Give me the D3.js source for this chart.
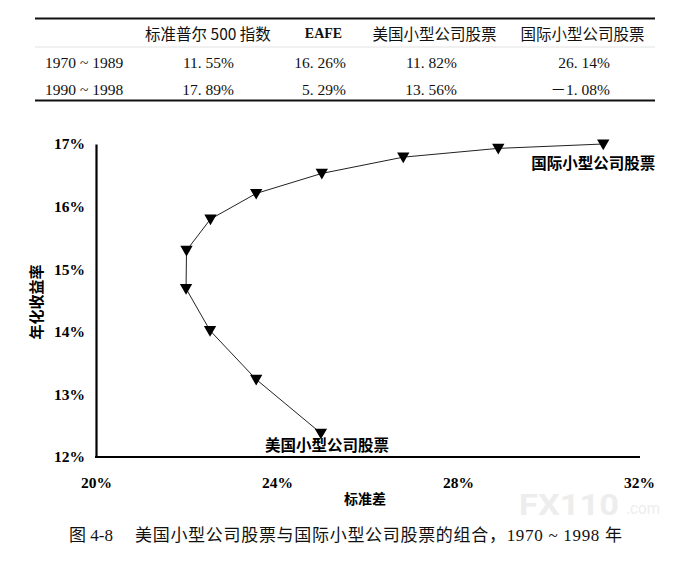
<!DOCTYPE html>
<html>
<head>
<meta charset="utf-8">
<script src="https://cdn.jsdelivr.net/npm/d3@7"></script>
<style>
  body { margin: 0; background: #fff; }
  svg { display: block; }
</style>
</head>
<body>
<svg width="698" height="567"></svg>
<script>
// table data
const tableHeaders = ['标准普尔 500 指数', 'EAFE', '美国小型公司股票', '国际小型公司股票']
const periods = ['1970 ~ 1989', '1990 ~ 1998']
const returns7089 = [11.55, 16.26, 11.82, 26.14]
const returns9098 = [17.89, 5.29, 13.56, -1.08]

// frontier data (from US small stocks to international small stocks)
const stdDev = [24.97, 23.54, 22.52, 21.99, 22.00, 22.53, 23.54, 24.99, 26.79, 28.89, 31.21]
const annReturn = [12.38, 13.24, 14.02, 14.69, 15.30, 15.80, 16.21, 16.53, 16.79, 16.93, 17.00]
const xTicks = [20, 24, 28, 32]
const yTicks = [12, 13, 14, 15, 16, 17]
const endLabels = ['美国小型公司股票', '国际小型公司股票']

const SERIF = '"Liberation Serif", "Noto Sans CJK SC", serif'
const CJK = '"Noto Sans CJK SC", sans-serif'

const $svg = d3.select('svg')

// ---- table ----
const colHeadX = [208, 323.5, 434.5, 582.5]
const colValX = [234, 346, 457, 610]
const rowY = [62, 89]
const fmt = v => (v < 0 ? '－' : '') + Math.abs(v).toFixed(2).replace('.', '. ') + '%'

const $table = $svg.append('g')
$table.append('line').attr('x1', 35).attr('x2', 655).attr('y1', 18.5).attr('y2', 18.5)
  .attr('stroke', '#111').attr('stroke-width', 2)
$table.append('line').attr('x1', 35).attr('x2', 655).attr('y1', 47).attr('y2', 47)
  .attr('stroke', '#e2e2e2').attr('stroke-width', 1)
$table.append('line').attr('x1', 35).attr('x2', 655).attr('y1', 100.5).attr('y2', 100.5)
  .attr('stroke', '#111').attr('stroke-width', 2)

$table.selectAll('.th')
  .data(tableHeaders)
  .enter()
  .append('text')
  .attr('x', (d, i) => colHeadX[i])
  .attr('y', 33)
  .attr('dominant-baseline', 'central')
  .attr('text-anchor', 'middle')
  .style('font-family', (d, i) => i === 1 ? SERIF : CJK)
  .style('font-size', (d, i) => i === 1 ? '14px' : '15.5px')
  .style('font-weight', (d, i) => i === 1 ? 'bold' : 'normal')
  .attr('fill', '#111')
  .text(d => d)

$table.selectAll('.period')
  .data(periods)
  .enter()
  .append('text')
  .attr('x', 45)
  .attr('y', (d, i) => rowY[i])
  .attr('dominant-baseline', 'central')
  .style('font-family', SERIF)
  .style('font-size', '15.5px')
  .attr('fill', '#111')
  .text(d => d)

;[returns7089, returns9098].forEach((row, r) => {
  $table.selectAll('.v' + r)
    .data(row)
    .enter()
    .append('text')
    .attr('x', (d, i) => colValX[i])
    .attr('y', rowY[r])
    .attr('dominant-baseline', 'central')
    .attr('text-anchor', 'end')
    .style('font-family', SERIF)
    .style('font-size', '15.5px')
    .attr('fill', '#111')
    .text(d => fmt(d))
})

// ---- chart ----
const scaleX = d3.scaleLinear().domain([20, 32]).range([96, 639])
const scaleY = d3.scaleLinear().domain([12, 17]).range([457, 144])

const $xAxis = $svg.append('g')
  .attr('transform', `translate(0, ${scaleY(12)})`)
  .call(d3.axisBottom(scaleX)
    .tickValues(xTicks)
    .tickSize(0)
    .tickPadding(20)
    .tickFormat(d => d + '%'))

const $yAxis = $svg.append('g')
  .attr('transform', `translate(${scaleX(20)}, 0)`)
  .call(d3.axisLeft(scaleY)
    .tickValues(yTicks)
    .tickSize(0)
    .tickPadding(11)
    .tickFormat(d => d + '%'))

;[$xAxis, $yAxis].forEach($a => {
  $a.attr('font-family', null).attr('font-size', null)
  $a.select('.domain').attr('stroke', '#000').attr('stroke-width', 2.2)
  $a.selectAll('text')
    .style('font-family', SERIF)
    .style('font-size', '15.5px')
    .style('font-weight', 'bold')
    .attr('fill', '#000')
})
$xAxis.select('.domain').attr('d', `M${scaleX(20) - 1},0H${scaleX(32) + 1}`)

const points = stdDev.map((s, i) => ({ s, r: annReturn[i] }))

$svg.append('path')
  .datum(points)
  .attr('fill', 'none')
  .attr('stroke', '#222')
  .attr('stroke-width', 1)
  .attr('d', d3.line().x(d => scaleX(d.s)).y(d => scaleY(d.r)))

$svg.selectAll('.marker')
  .data(points)
  .enter()
  .append('path')
  .attr('class', 'marker')
  .attr('d', d3.symbol(d3.symbolTriangle, 66))
  .attr('transform', d => `translate(${scaleX(d.s)}, ${scaleY(d.r) - 1}) rotate(180)`)
  .attr('fill', '#000')

// end labels
const first = points[0]
const last = points[points.length - 1]
$svg.append('text')
  .attr('x', scaleX(first.s) + 6)
  .attr('y', scaleY(first.r) + 11)
  .attr('dominant-baseline', 'central')
  .attr('text-anchor', 'middle')
  .style('font-family', CJK)
  .style('font-size', '15.5px')
  .style('font-weight', 'bold')
  .text(endLabels[0])
$svg.append('text')
  .attr('x', scaleX(last.s) - 10)
  .attr('y', scaleY(last.r) + 18)
  .attr('dominant-baseline', 'central')
  .attr('text-anchor', 'middle')
  .style('font-family', CJK)
  .style('font-size', '15.5px')
  .style('font-weight', 'bold')
  .text(endLabels[1])

// axis titles
$svg.append('text')
  .attr('transform', 'translate(35, 302) rotate(-90)')
  .attr('dominant-baseline', 'central')
  .attr('text-anchor', 'middle')
  .style('font-family', CJK)
  .style('font-size', '15px')
  .style('font-weight', 'bold')
  .text('年化收益率')
$svg.append('text')
  .attr('x', 365)
  .attr('y', 498)
  .attr('dominant-baseline', 'central')
  .attr('text-anchor', 'middle')
  .style('font-family', CJK)
  .style('font-size', '14px')
  .style('font-weight', 'bold')
  .text('标准差')

// watermark (faint)
const $wm = $svg.append('g').attr('fill', '#ededed')
$wm.append('text')
  .attr('x', 519).attr('y', 515)
  .attr('textLength', 100)
  .attr('lengthAdjust', 'spacingAndGlyphs')
  .style('font-family', 'Roboto, sans-serif')
  .style('font-size', '30px')
  .style('font-weight', 'bold')
  .text('FX110')
$wm.append('text')
  .attr('x', 626).attr('y', 514)
  .attr('textLength', 34)
  .attr('lengthAdjust', 'spacingAndGlyphs')
  .style('font-family', 'Roboto, sans-serif')
  .style('font-size', '16px')
  .text('.com')

// caption
$svg.append('text')
  .attr('x', 69).attr('y', 541)
  .style('font-family', SERIF)
  .style('font-size', '17px')
  .attr('fill', '#111')
  .text('图 4-8')
$svg.append('text')
  .attr('x', 135).attr('y', 541)
  .attr('textLength', 487)
  .attr('lengthAdjust', 'spacing')
  .style('font-family', SERIF)
  .style('font-size', '17px')
  .attr('fill', '#111')
  .text('美国小型公司股票与国际小型公司股票的组合，1970 ~ 1998 年')
</script>
</body>
</html>
